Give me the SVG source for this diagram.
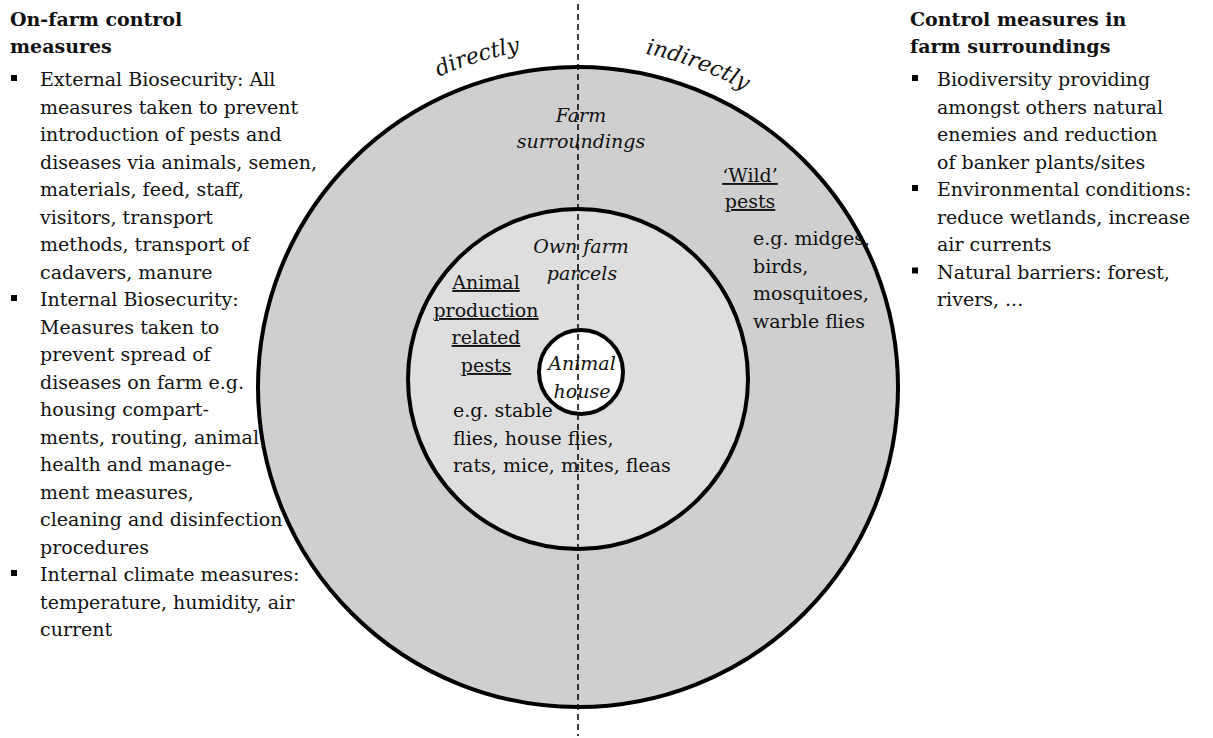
<svg xmlns="http://www.w3.org/2000/svg" width="1213" height="738" viewBox="0 0 1213 738">
<style>
text{font-family:"DejaVu Serif","Liberation Serif",serif;font-size:19px;fill:#111}
.b{font-weight:bold}
.i{font-style:italic}
.u{text-decoration:underline}
.m{text-anchor:middle}
.ring{stroke:#000;stroke-width:4}
</style>
<defs>
<path id="arc" d="M 238 387 A 340 340 0 0 1 918 387" fill="none"/>
</defs>
<rect width="1213" height="738" fill="#fff"/>
<g id="outer"><circle class="ring" cx="578" cy="387" r="320" fill="#cfcfcf"/></g>
<g id="inner"><circle class="ring" cx="578" cy="379" r="170" fill="#dedede"/></g>
<g id="house"><circle class="ring" cx="581" cy="372" r="42" fill="#fff"/></g>
<g id="connectors">
<line x1="578" y1="4" x2="578" y2="736" stroke="#000" stroke-width="1.5" stroke-dasharray="6,4"/>
</g>
<g id="labels-arc">
<text class="i" style="font-size:22px"><textPath href="#arc" startOffset="433" text-anchor="middle">directly</textPath></text>
<text class="i" style="font-size:22px"><textPath href="#arc" startOffset="655" text-anchor="middle">indirectly</textPath></text>
</g>
<g id="farm-surroundings">
<text class="i m" x="581" y="122">Farm</text>
<text class="i m" x="581" y="148">surroundings</text>
</g>
<g id="wild-pests">
<text class="u m" x="750" y="182">‘Wild’</text>
<text class="u m" x="750" y="208">pests</text>
<text x="753" y="245">e.g. midges,</text>
<text x="753" y="272.5">birds,</text>
<text x="753" y="300">mosquitoes,</text>
<text x="753" y="327.5">warble flies</text>
</g>
<g id="own-farm">
<text class="i m" x="581" y="253">Own farm</text>
<text class="i m" x="582" y="280">parcels</text>
</g>
<g id="production-pests">
<text class="u m" x="486" y="289">Animal</text>
<text class="u m" x="486" y="317">production</text>
<text class="u m" x="486" y="344">related</text>
<text class="u m" x="486" y="372">pests</text>
<text x="453" y="417">e.g. stable</text>
<text x="453" y="444.5">flies, house flies,</text>
<text x="453" y="472">rats, mice, mites, fleas</text>
</g>
<g id="animal-house">
<text class="i m" x="582" y="370">Animal</text>
<text class="i m" x="582" y="398">house</text>
</g>
<g id="left-column">
<text class="b" x="10" y="26">On-farm control</text>
<text class="b" x="10" y="53">measures</text>
<rect x="11" y="75" width="6" height="6" fill="#000"/>
<rect x="11" y="295" width="6" height="6" fill="#000"/>
<rect x="11" y="570" width="6" height="6" fill="#000"/>
<text x="40" y="86">External Biosecurity: All</text>
<text x="40" y="113.5">measures taken to prevent</text>
<text x="40" y="141">introduction of pests and</text>
<text x="40" y="168.5">diseases via animals, semen,</text>
<text x="40" y="196">materials, feed, staff,</text>
<text x="40" y="223.5">visitors, transport</text>
<text x="40" y="251">methods, transport of</text>
<text x="40" y="278.5">cadavers, manure</text>
<text x="40" y="306">Internal Biosecurity:</text>
<text x="40" y="333.5">Measures taken to</text>
<text x="40" y="361">prevent spread of</text>
<text x="40" y="388.5">diseases on farm e.g.</text>
<text x="40" y="416">housing compart-</text>
<text x="40" y="443.5">ments, routing, animal</text>
<text x="40" y="471">health and manage-</text>
<text x="40" y="498.5">ment measures,</text>
<text x="40" y="526">cleaning and disinfection</text>
<text x="40" y="553.5">procedures</text>
<text x="40" y="581">Internal climate measures:</text>
<text x="40" y="608.5">temperature, humidity, air</text>
<text x="40" y="636">current</text>
</g>
<g id="right-column">
<text class="b" x="910" y="26">Control measures in</text>
<text class="b" x="910" y="53">farm surroundings</text>
<rect x="912" y="75" width="6" height="6" fill="#000"/>
<rect x="912" y="185" width="6" height="6" fill="#000"/>
<rect x="912" y="267.5" width="6" height="6" fill="#000"/>
<text x="937" y="86">Biodiversity providing</text>
<text x="937" y="113.5">amongst others natural</text>
<text x="937" y="141">enemies and reduction</text>
<text x="937" y="168.5">of banker plants/sites</text>
<text x="937" y="196">Environmental conditions:</text>
<text x="937" y="223.5">reduce wetlands, increase</text>
<text x="937" y="251">air currents</text>
<text x="937" y="278.5">Natural barriers: forest,</text>
<text x="937" y="306">rivers, ...</text>
</g>
</svg>
